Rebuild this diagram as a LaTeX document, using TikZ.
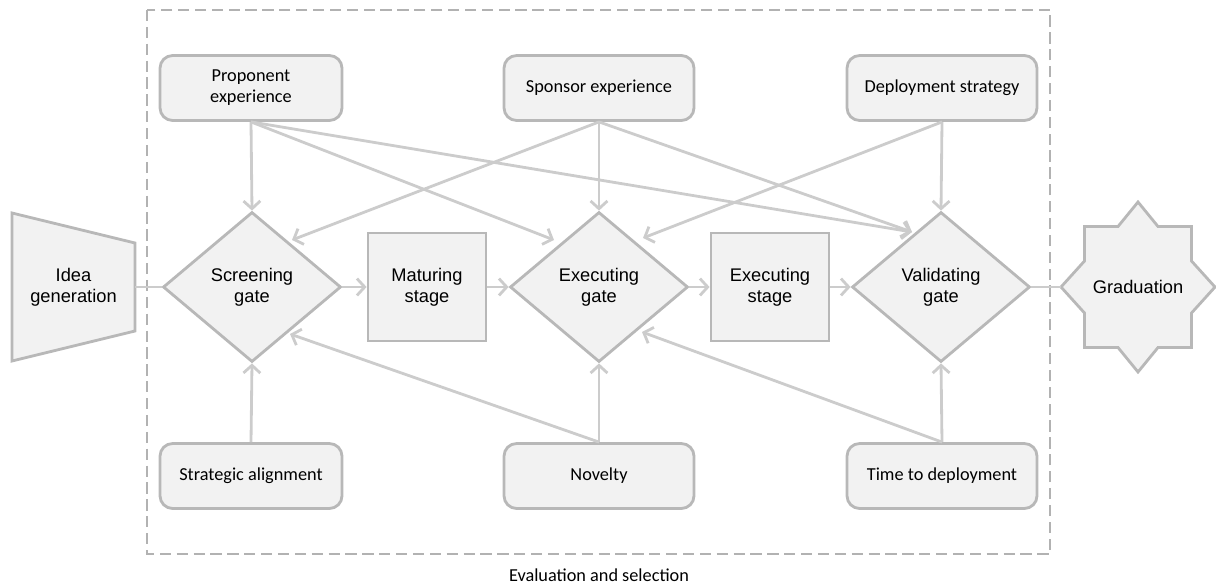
\documentclass[tikz,border=0pt]{standalone}
\usepackage{fontspec}
\setmainfont{Carlito}
\newfontfamily\arialfont{Liberation Sans}
\usetikzlibrary{shapes.geometric,arrows.meta,calc}
\definecolor{linegray}{RGB}{204,204,204}
\definecolor{rimgray}{RGB}{184,184,184}
\definecolor{fillgray}{RGB}{242,242,242}
\definecolor{dashgray}{RGB}{178,178,178}
\newlength\pxu
\setlength\pxu{0.025cm}

\begin{document}
\begin{tikzpicture}[x=0.025cm, y=-0.025cm,
    factor/.style={draw=rimgray, line width=2pt, fill=fillgray, rounded corners=9pt,
        minimum height=65\pxu, align=center, font=\fontsize{13}{15}\selectfont},
    gate/.style={diamond, draw=rimgray, line width=2pt, fill=fillgray, minimum width=178\pxu,
        minimum height=150\pxu, inner sep=0pt, align=center, font=\arialfont\fontsize{13}{15}\selectfont},
    stagebox/.style={draw=rimgray, line width=2pt, fill=fillgray, minimum width=118\pxu,
        minimum height=108\pxu, align=center, font=\arialfont\fontsize{13}{15}\selectfont},
    link/.style={draw=linegray, line width=2pt, -{Straight Barb[length=5.5pt,width=12pt]}},
    plain/.style={draw=linegray, line width=2pt}]
        \useasboundingbox (0,0) rectangle (1216,585);
        \draw[dashgray, line width=1.5pt, dash pattern=on 8pt off 4pt] (147,10) rectangle (1050,554);
        \node[inner sep=0pt] (evl) at (599,575) {\fontsize{13}{15}\selectfont Evaluation and selection};

        \filldraw[draw=rimgray, fill=fillgray, line width=2pt] (12,213)--(135,243)--(135,331)--(12,361)--cycle;
        \node[minimum width=123\pxu, align=center, font=\arialfont\fontsize{13}{15}\selectfont] (idea) at (73.5,287) {Idea\\generation};

        \node[gate] (sg) at (252,287) {Screening\\gate};
        \node[stagebox] (ms) at (427,287) {Maturing\\stage};
        \node[gate] (eg) at (599,287) {Executing\\gate};
        \node[stagebox] (es) at (770,287) {Executing\\stage};
        \node[gate] (vg) at (941,287) {Validating\\gate};

        \begin{scope}[shift={(1138,287)}]
            \filldraw[draw=rimgray, fill=fillgray, line width=2pt] (0,-85)--(20,-60.5)--(53.5,-60.5)--(53.5,-26)--(77,0)--(53.5,26)--(53.5,60.5)--(20,60.5)--(0,85)--(-20,60.5)--(-53.5,60.5)--(-53.5,26)--(-77,0)--(-53.5,-26)--(-53.5,-60.5)--(-20,-60.5)--cycle;
            \coordinate (grad in) at (-77,0);
        \end{scope}
        \node[font=\arialfont\fontsize{13}{15}\selectfont] (grad) at (1138,287) {Graduation};

        \node[factor, minimum width=182\pxu] (pe) at (251,88) {Proponent\\experience};
        \node[factor, minimum width=190\pxu] (se) at (599,88) {Sponsor experience};
        \node[factor, minimum width=190\pxu] (ds) at (942,88) {Deployment strategy};
        \node[factor, minimum width=182\pxu] (sa) at (251,476) {Strategic alignment};
        \node[factor, minimum width=190\pxu] (nv) at (599,476) {Novelty};
        \node[factor, minimum width=190\pxu] (tdp) at (942,476) {Time to deployment};

        \draw[plain] (idea.east) -- (sg.west);
        \draw[link] (sg.east) -- (ms.west);
        \draw[link] (ms.east) -- (eg.west);
        \draw[link] (eg.east) -- (es.west);
        \draw[link] (es.east) -- (vg.west);
        \draw[plain] (vg.east) -- (grad in);

        \draw[link] (pe.south) -- (sg.north);
        \draw[link] (pe.south) -- ($(eg.center)+(-45,-47)$);
        \draw[link] (pe.south) -- ($(vg.center)+(-29,-55)$);
        \draw[link] (se.south) -- ($(sg.center)+(40,-47)$);
        \draw[link] (se.south) -- (eg.north);
        \draw[link] (se.south) -- ($(vg.center)+(-29,-55)$);
        \draw[link] (ds.south) -- ($(eg.center)+(44,-49)$);
        \draw[link] (ds.south) -- (vg.north);
        \draw[link] (sa.north) -- (sg.south);
        \draw[link] (nv.north) -- (eg.south);
        \draw[link] (nv.north) -- ($(sg.center)+(38,47)$);
        \draw[link] (tdp.north) -- (vg.south);
        \draw[link] (tdp.north) -- ($(eg.center)+(43,45)$);
    \end{tikzpicture}
\end{document}
